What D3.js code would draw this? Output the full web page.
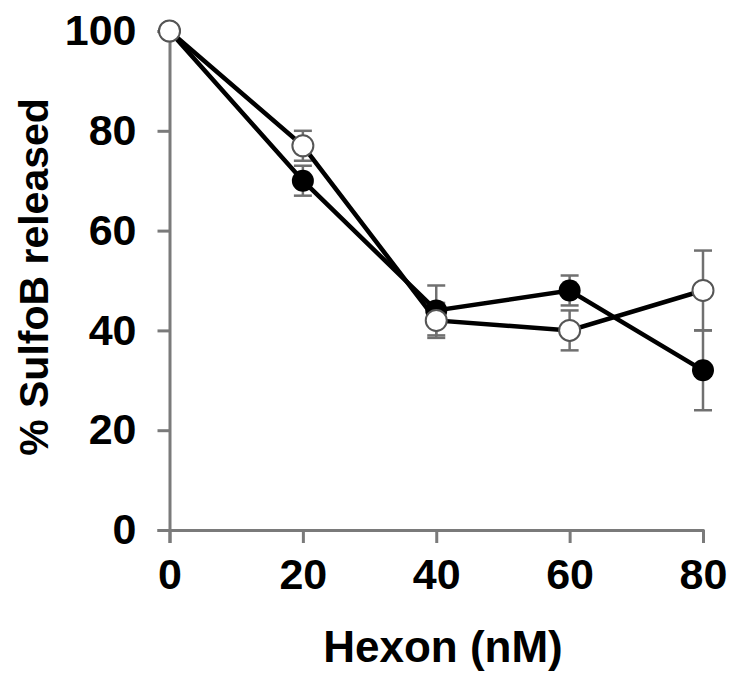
<!DOCTYPE html>
<html>
<head>
<style>
body { margin: 0; background: #fff; }
.axis path, .axis line { stroke: #7a7a7a; stroke-width: 3; }
.axis path { stroke-linejoin: round; }
.axis text { font-family: "Liberation Sans", Arial, sans-serif; font-weight: bold; font-size: 43px; fill: #000; }
.title { font-family: "Liberation Sans", Arial, sans-serif; font-weight: bold; fill: #000; }
</style>
<script src="https://cdn.jsdelivr.net/npm/d3@7"></script>
</head>
<body>
<svg width="731" height="673"></svg>
<script>

var hexon = [0, 20, 40, 60, 80];
var filled = [100, 70, 44, 48, 32];
var filledErr = [0, 3, 5, 3, 8];
var open = [100, 77, 42, 40, 48];
var openErr = [0, 3, 3.5, 4, 8];
var yTicks = [0, 20, 40, 60, 80, 100];

var svg = d3.select("svg");

var x = d3.scaleLinear().domain([0, 80]).range([169.5, 703]),
    y = d3.scaleLinear().domain([0, 100]).range([530, 31]);

svg.append("g")
    .attr("class", "axis")
    .attr("transform", "translate(0,530)")
    .call(d3.axisBottom(x).tickValues(hexon).tickSize(13).tickPadding(15));

svg.append("g")
    .attr("class", "axis")
    .attr("transform", "translate(169.5,0)")
    .call(d3.axisLeft(y).tickValues(yTicks).tickSize(12).tickPadding(21));

svg.selectAll(".axis .domain").attr("fill", "none");

svg.append("text")
    .attr("class", "title")
    .attr("x", 443)
    .attr("y", 662)
    .attr("font-size", 44)
    .attr("text-anchor", "middle")
    .text("Hexon (nM)");

svg.append("text")
    .attr("class", "title")
    .attr("transform", "translate(48,277) rotate(-90)")
    .attr("font-size", 41)
    .attr("text-anchor", "middle")
    .text("% SulfoB released");

function series(vals, errs) {
  return hexon.map(function(h, i) { return {x: h, y: vals[i], e: errs[i]}; });
}
var sFilled = series(filled, filledErr),
    sOpen = series(open, openErr);

var line = d3.line().x(function(d) { return x(d.x); }).y(function(d) { return y(d.y); });

// error bars
[sFilled, sOpen].forEach(function(s) {
  var eb = svg.append("g").attr("stroke", "#707070").attr("stroke-width", 2.5);
  s.filter(function(d) { return d.e > 0; }).forEach(function(d) {
    eb.append("line").attr("x1", x(d.x)).attr("x2", x(d.x))
      .attr("y1", y(d.y - d.e)).attr("y2", y(d.y + d.e));
    [d.y - d.e, d.y + d.e].forEach(function(v) {
      eb.append("line").attr("x1", x(d.x) - 9).attr("x2", x(d.x) + 9)
        .attr("y1", y(v)).attr("y2", y(v));
    });
  });
});

svg.append("path").datum(sFilled)
    .attr("fill", "none").attr("stroke", "#000").attr("stroke-width", 4.5)
    .attr("d", line);
svg.append("path").datum(sOpen)
    .attr("fill", "none").attr("stroke", "#000").attr("stroke-width", 4.5)
    .attr("d", line);

svg.selectAll(".dotf").data(sFilled).enter().append("circle")
    .attr("cx", function(d) { return x(d.x); })
    .attr("cy", function(d) { return y(d.y); })
    .attr("r", 11)
    .attr("fill", "#000");

svg.selectAll(".doto").data(sOpen).enter().append("circle")
    .attr("cx", function(d) { return x(d.x); })
    .attr("cy", function(d) { return y(d.y); })
    .attr("r", 10.5)
    .attr("fill", "#fff")
    .attr("stroke", "#555")
    .attr("stroke-width", 2);

</script>
</body>
</html>
